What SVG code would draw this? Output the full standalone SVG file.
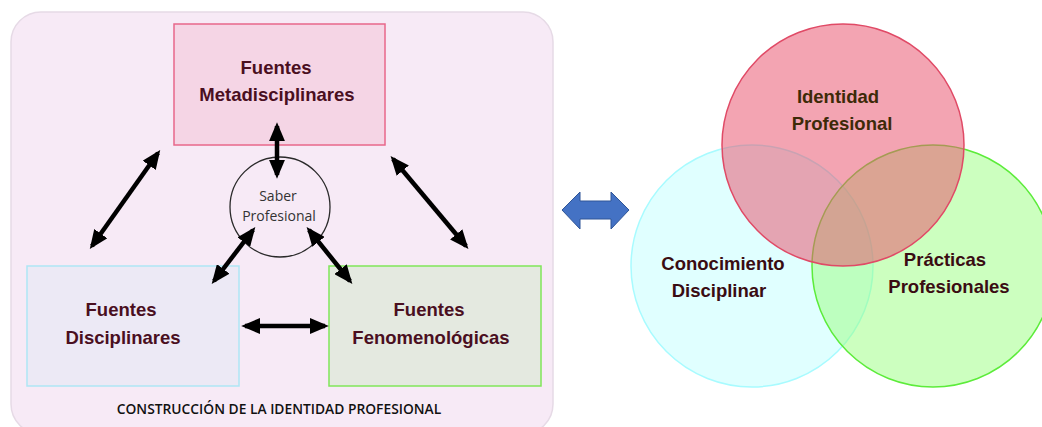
<svg xmlns="http://www.w3.org/2000/svg" width="1042" height="427" viewBox="0 0 1042 427">
<style>
.lbl{font-family:"Liberation Sans",Arial,sans-serif;font-weight:bold;font-size:18.5px;fill:#4a0f1f;text-anchor:middle}
.ven{font-family:"Liberation Sans",Arial,sans-serif;font-weight:bold;font-size:18.5px;text-anchor:middle}
.conn line{stroke:#000;stroke-width:4.5;marker-start:url(#ah);marker-end:url(#ah)}
</style>
<defs>
<marker id="ah" viewBox="0 0 10 10" refX="8" refY="5" markerWidth="19" markerHeight="16" markerUnits="userSpaceOnUse" orient="auto-start-reverse" preserveAspectRatio="none">
<path d="M0,0 L10,5 L0,10 z" fill="#000"/>
</marker>
</defs>
<rect width="1042" height="427" fill="#fff"/>
<g id="panel">
<rect x="11" y="12" width="542" height="422" rx="30" fill="#f7eaf6" stroke="#e6dae6" stroke-width="1.5"/>
<text x="279" y="414" font-family="'Open Sans',sans-serif" font-weight="600" font-size="13.8" fill="#111" text-anchor="middle">CONSTRUCCIÓN DE LA IDENTIDAD PROFESIONAL</text>
</g>
<g id="meta">
<rect x="174" y="24" width="211" height="121" fill="#f5d5e5" stroke="#e8678a" stroke-width="1.5"/>
<text class="lbl" x="276" y="74">Fuentes</text>
<text class="lbl" x="277" y="101">Metadisciplinares</text>
</g>
<g id="disc">
<rect x="27" y="266" width="212" height="120" fill="#ece9f5" stroke="#aee6f5" stroke-width="1.5"/>
<text class="lbl" x="121" y="316">Fuentes</text>
<text class="lbl" x="123" y="344">Disciplinares</text>
</g>
<g id="feno">
<rect x="329" y="266" width="212" height="120" fill="#e4e9e0" stroke="#80e65a" stroke-width="1.5"/>
<text class="lbl" x="429" y="316">Fuentes</text>
<text class="lbl" x="431" y="344">Fenomenológicas</text>
</g>
<g id="saber">
<circle cx="280" cy="207" r="50" fill="#f7eaf6" stroke="#2a2a2a" stroke-width="1.3"/>
<text x="278" y="201" font-family="'Open Sans',sans-serif" font-size="14" fill="#333" text-anchor="middle">Saber</text>
<text x="279" y="221" font-family="'Open Sans',sans-serif" font-size="14" fill="#333" text-anchor="middle">Profesional</text>
</g>
<g id="connectors" class="conn">
<line x1="277" y1="126" x2="277" y2="175"/>
<line x1="158" y1="153" x2="92" y2="246"/>
<line x1="393" y1="159" x2="466" y2="246"/>
<line x1="253" y1="230" x2="214" y2="281"/>
<line x1="309" y1="230" x2="350" y2="281"/>
<line x1="245" y1="326" x2="325" y2="326"/>
</g>
<g id="bigarrow">
<path d="M562,210 L580,192 L580,201 L611,201 L611,192 L629,210 L611,229 L611,219 L580,219 L580,229 Z" fill="#4472c4" stroke="#2f5597" stroke-width="1"/>
</g>
<g id="venn">
<g id="conocimiento">
<circle cx="752" cy="266" r="121" fill="#e0ffff" stroke="#a8fbff" stroke-width="1.5"/>
</g>
<g id="practicas">
<circle cx="933" cy="266" r="121" fill="#99ff80" fill-opacity="0.5" stroke="#5cec3a" stroke-width="1.5"/>
</g>
<g id="identidad">
<circle cx="843" cy="145" r="121" fill="#e8506c" fill-opacity="0.52" stroke="#e04a66" stroke-width="1.5"/>
</g>
<text class="ven" x="838" y="103" fill="#3d2a08">Identidad</text>
<text class="ven" x="842" y="130" fill="#3d2a08">Profesional</text>
<text class="ven" x="723" y="270" fill="#3a0c12">Conocimiento</text>
<text class="ven" x="719" y="297" fill="#3a0c12">Disciplinar</text>
<text class="ven" x="945" y="266" fill="#3a0c12">Prácticas</text>
<text class="ven" x="949" y="293" fill="#3a0c12">Profesionales</text>
</g>
</svg>
